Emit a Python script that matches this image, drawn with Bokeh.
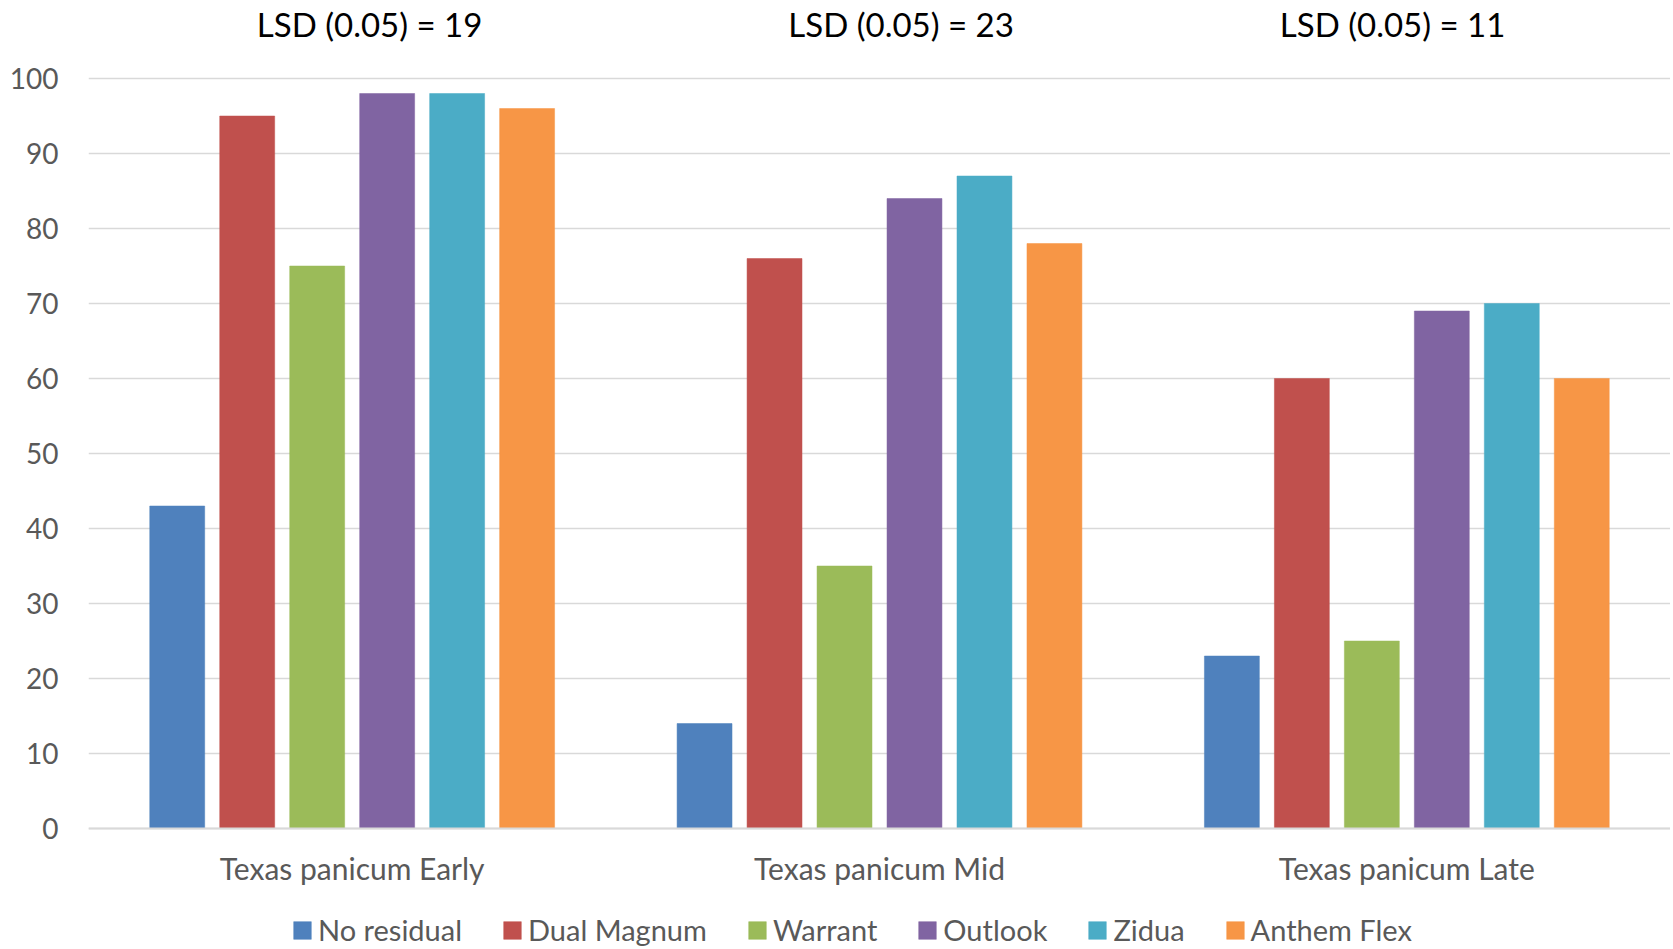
from bokeh.plotting import figure
from bokeh.models import (FactorRange, Range1d, FixedTicker, Legend, LegendItem,
                          Label, ColumnDataSource)
from bokeh.transform import dodge
from bokeh.embed import file_html
from bokeh.resources import INLINE

categories = ["Texas panicum Early", "Texas panicum Mid", "Texas panicum Late"]
series_names = ["No residual", "Dual Magnum", "Warrant", "Outlook", "Zidua", "Anthem Flex"]
no_residual = [43, 14, 23]
dual_magnum = [95, 76, 60]
warrant = [75, 35, 25]
outlook = [98, 84, 69]
zidua = [98, 87, 70]
anthem_flex = [96, 78, 60]
lsd_values = [19, 23, 11]
y_ticks = [0, 10, 20, 30, 40, 50, 60, 70, 80, 90, 100]

series_values = [no_residual, dual_magnum, warrant, outlook, zidua, anthem_flex]
colors = ["#4F81BD", "#C0504D", "#9BBB59", "#8064A2", "#4BACC6", "#F79646"]

FONT = "Lato"
GREY = "#595959"

# frame spans the whole height; the category axis sits at y = 0
p = figure(x_range=FactorRange(factors=categories, range_padding=0),
           y_range=Range1d(-16.13, 110.4),
           width=1670, height=949, output_backend="svg", toolbar_location=None,
           min_border_left=88, min_border_right=0, min_border_top=0,
           min_border_bottom=0)
p.outline_line_color = None
p.background_fill_color = "white"
p.border_fill_color = "white"

data = {"cat": categories}
for name, vals in zip(series_names, series_values):
    data[name] = vals
src = ColumnDataSource(data)

step = 0.1327
bw = 0.1042
items = []
for i, (name, col) in enumerate(zip(series_names, colors)):
    r = p.vbar(x=dodge("cat", (i - 2.5) * step, range=p.x_range), top=name,
               width=bw, bottom=0, source=src, fill_color=col, line_color=col,
               line_width=0.5)
    items.append(LegendItem(label=name, renderers=[r]))

# axes
p.xgrid.grid_line_color = None
p.ygrid.grid_line_color = "#D9D9D9"
p.ygrid.grid_line_width = 1.5
p.yaxis.ticker = FixedTicker(ticks=y_ticks)
p.yaxis.axis_line_color = None
p.yaxis.major_tick_line_color = None
p.yaxis.minor_tick_line_color = None
p.yaxis.major_tick_in = 0
p.yaxis.major_tick_out = 0
p.yaxis.major_label_standoff = 30
p.yaxis.major_label_text_font = FONT
p.yaxis.major_label_text_font_size = "28px"
p.yaxis.major_label_text_color = GREY

p.xaxis.fixed_location = 0
p.xaxis.axis_line_color = "#D9D9D9"
p.xaxis.axis_line_width = 2
p.xaxis.major_tick_line_color = None
p.xaxis.minor_tick_line_color = None
p.xaxis.major_tick_in = 0
p.xaxis.major_tick_out = 0
p.xaxis.major_label_standoff = 21
p.xaxis.major_label_text_font = FONT
p.xaxis.major_label_text_font_size = "30px"
p.xaxis.major_label_text_color = GREY

# LSD labels above each group
title_offsets = [0.033, 0.041, -0.027]
for i, v in enumerate(lsd_values):
    p.add_layout(Label(x=i + 0.5 + title_offsets[i], y=107.3, text=f"LSD (0.05) = {v}",
                       text_align="center", text_baseline="alphabetic",
                       text_font=FONT, text_font_size="33px", text_color="black"))

legend = Legend(items=items, orientation="horizontal", location=(203, 2),
                glyph_width=22, glyph_height=22, label_standoff=5, spacing=39,
                padding=0, margin=0, border_line_color=None,
                background_fill_alpha=0,
                label_text_font=FONT, label_text_font_size="29px",
                label_text_color=GREY)
p.add_layout(legend, "center")

open("out.html", "w").write(file_html(p, INLINE))
